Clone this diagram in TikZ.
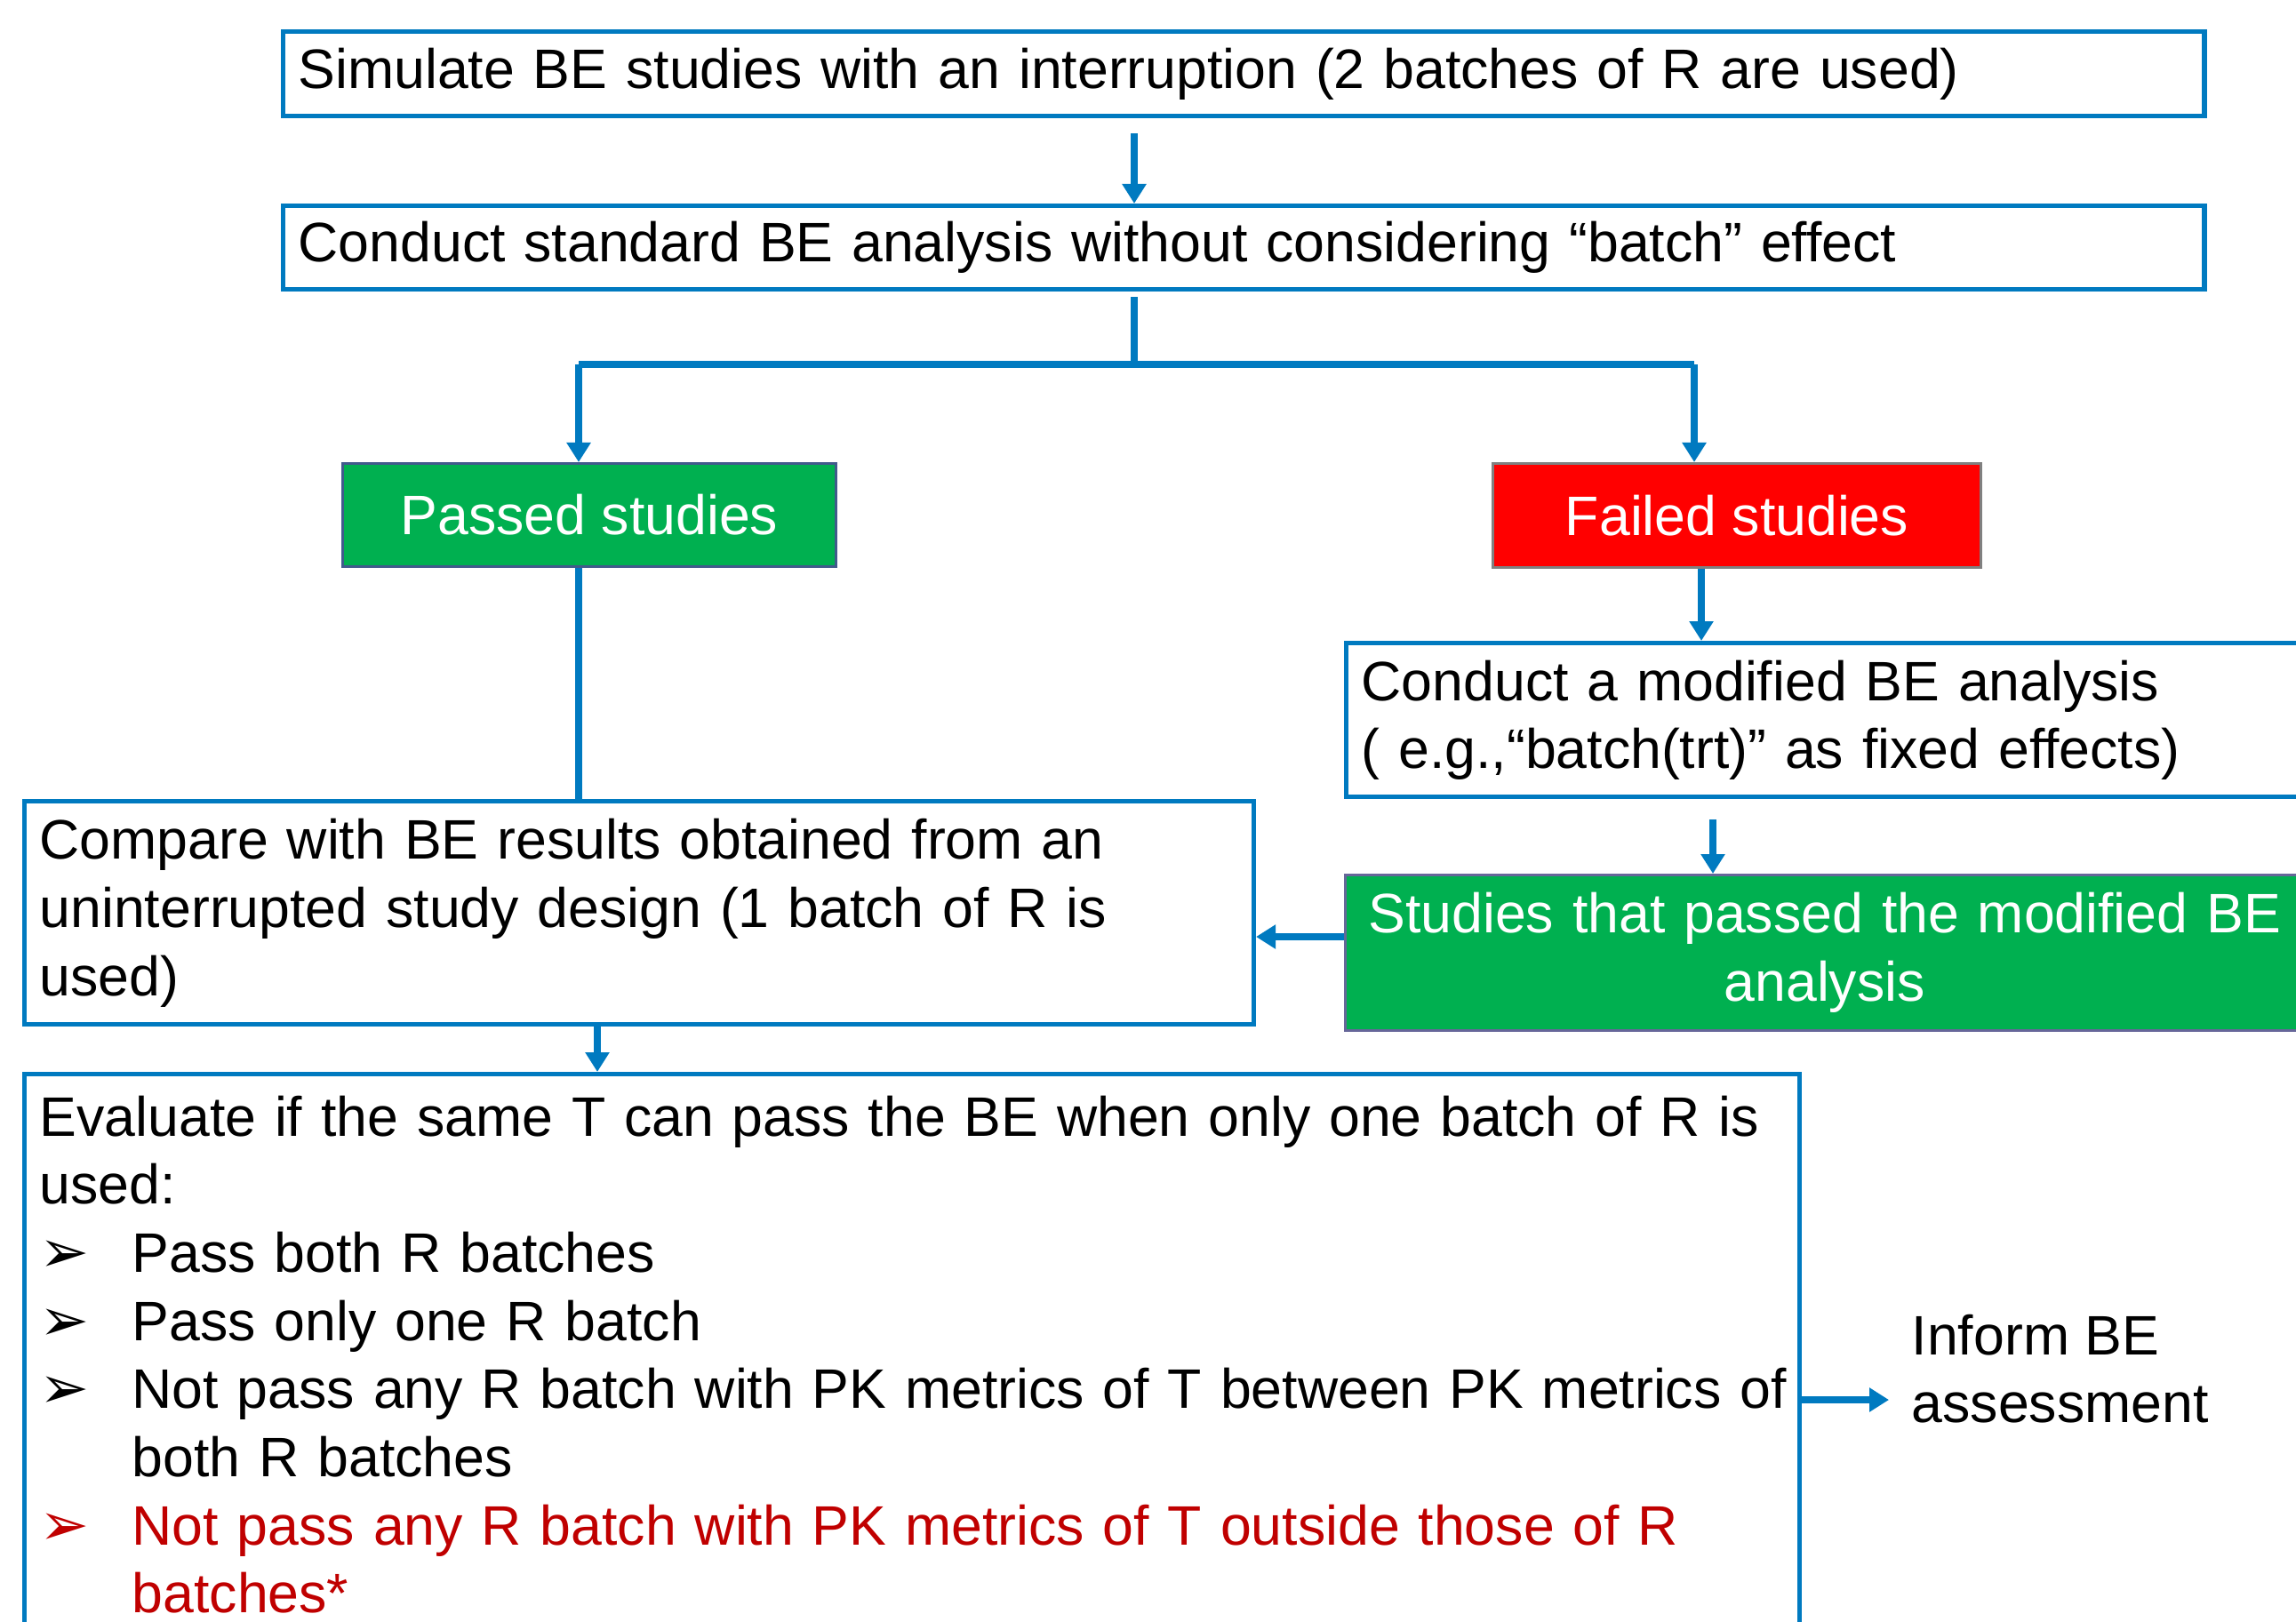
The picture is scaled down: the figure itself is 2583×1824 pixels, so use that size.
\documentclass[tikz,border=0pt]{standalone}
\usepackage{fontspec}
\setmainfont{Liberation Sans}
\newfontfamily\symfont{DejaVu Sans}
\usetikzlibrary{arrows.meta}

\definecolor{flowblue}{RGB}{0,122,192}
\definecolor{passgreen}{RGB}{0,176,80}
\definecolor{failred}{RGB}{255,0,0}
\definecolor{notered}{RGB}{192,0,0}
\definecolor{edgeblue}{RGB}{65,90,140}
\newcommand{\bulletitem}[1]{\makebox[1.04cm][l]{\symfont\fontsize{19}{18}\selectfont ➢}\mbox{#1}}

\begin{document}
\begin{tikzpicture}[x=0.01cm, y=-0.01cm,
    textbox/.style ={draw=flowblue, line width=1.5pt, fill=white, anchor=north west,
                     align=left, inner xsep=0.17cm, font=\fontsize{17.8}{21.8}\selectfont},
    greenbox/.style={draw=edgeblue, line width=0.8pt, fill=passgreen, text=white,
                     anchor=north west, align=center, font=\fontsize{17.8}{21.8}\selectfont},
    redbox/.style  ={draw=gray, line width=0.8pt, fill=failred, text=white,
                     anchor=north west, align=center, font=\fontsize{17.8}{21.8}\selectfont},
    flow/.style    ={draw=flowblue, line width=2.1pt, -{Triangle[width=0.26cm,length=0.22cm]}},
    link/.style    ={draw=flowblue, line width=2.1pt}]
   \useasboundingbox (0,0) rectangle (2583,1824);
   % boxes
   \node[textbox, text width=21.26cm, minimum height=0.95cm] (simulate) at (316,33)
      {Simulate BE studies with an interruption (2 batches of R are used)};
   \node[textbox, text width=21.26cm, minimum height=0.94cm] (standard) at (316,229)
      {Conduct standard BE analysis without considering “batch” effect};
   \node[greenbox, minimum width=5.55cm, minimum height=1.16cm] (passed) at (384,520) {Passed studies};
   \node[redbox, minimum width=5.49cm, minimum height=1.17cm] (failed) at (1678,520) {Failed studies};
   \node[textbox, text width=10.54cm, minimum height=1.73cm] (modified) at (1512,721)
      {Conduct a modified BE analysis\\( e.g.,“batch(trt)” as fixed effects)};
   \node[greenbox, draw=gray!80!blue, inner xsep=0.19cm, text width=10.4cm, minimum height=1.75cm] (modpassed) at (1512,983)
      {Studies that passed the modified BE\\analysis};
   \node[textbox, text width=13.48cm, minimum height=2.51cm] (compare) at (25,899)
      {Compare with BE results obtained from an\\uninterrupted study design (1 batch of R is\\used)};
   \node[textbox, text width=19.62cm, inner ysep=0.24cm] (evaluate) at (25,1206)
      {Evaluate if the same T can pass the BE when only one batch of R is\\
       used:\\
       \bulletitem{Pass both R batches}\\
       \bulletitem{Pass only one R batch}\\
       \bulletitem{Not pass any R batch with PK metrics of T between PK metrics of}\\
       \hspace*{1.04cm}both R batches\\
       \color{notered}\bulletitem{Not pass any R batch with PK metrics of T outside those of R}\\
       \color{notered}\hspace*{1.04cm}batches*};
   \node[anchor=west, align=left, inner sep=0pt, font=\fontsize{17.8}{21.8}\selectfont] (inform) at (2150,1540)
      {Inform BE\\assessment};
   % connectors
   \coordinate (split) at (1276,410);
   \coordinate (passedtop) at (651,410);
   \coordinate (failedtop) at (1906,410);
   \coordinate (faileddown) at (1914,0);
   \coordinate (modifieddown) at (1927,0);
   \coordinate (backlevel) at (0,1054);
   \coordinate (comparedown) at (672,0);
   \coordinate (informin) at (2125,1575);
   \draw[flow, shorten <=0.17cm] (simulate.south -| split) -- (standard.north -| split);
   \draw[link, shorten <=0.06cm] (standard.south -| split) -- (split);
   \draw[link] (passedtop) -- (failedtop);
   \draw[flow] (passedtop) -- (passed.north -| passedtop);
   \draw[flow] (failedtop) -- (failed.north -| failedtop);
   \draw[link] (passed.south -| passedtop) -- (compare.north -| passedtop);
   \draw[flow] (failed.south -| faileddown) -- (modified.north -| faileddown);
   \draw[flow, shorten <=0.23cm] (modified.south -| modifieddown) -- (modpassed.north -| modifieddown);
   \draw[flow] (modpassed.west |- backlevel) -- (compare.east |- backlevel);
   \draw[flow] (compare.south -| comparedown) -- (evaluate.north -| comparedown);
   \draw[flow] (evaluate.east |- informin) -- (informin);
\end{tikzpicture}
\end{document}
